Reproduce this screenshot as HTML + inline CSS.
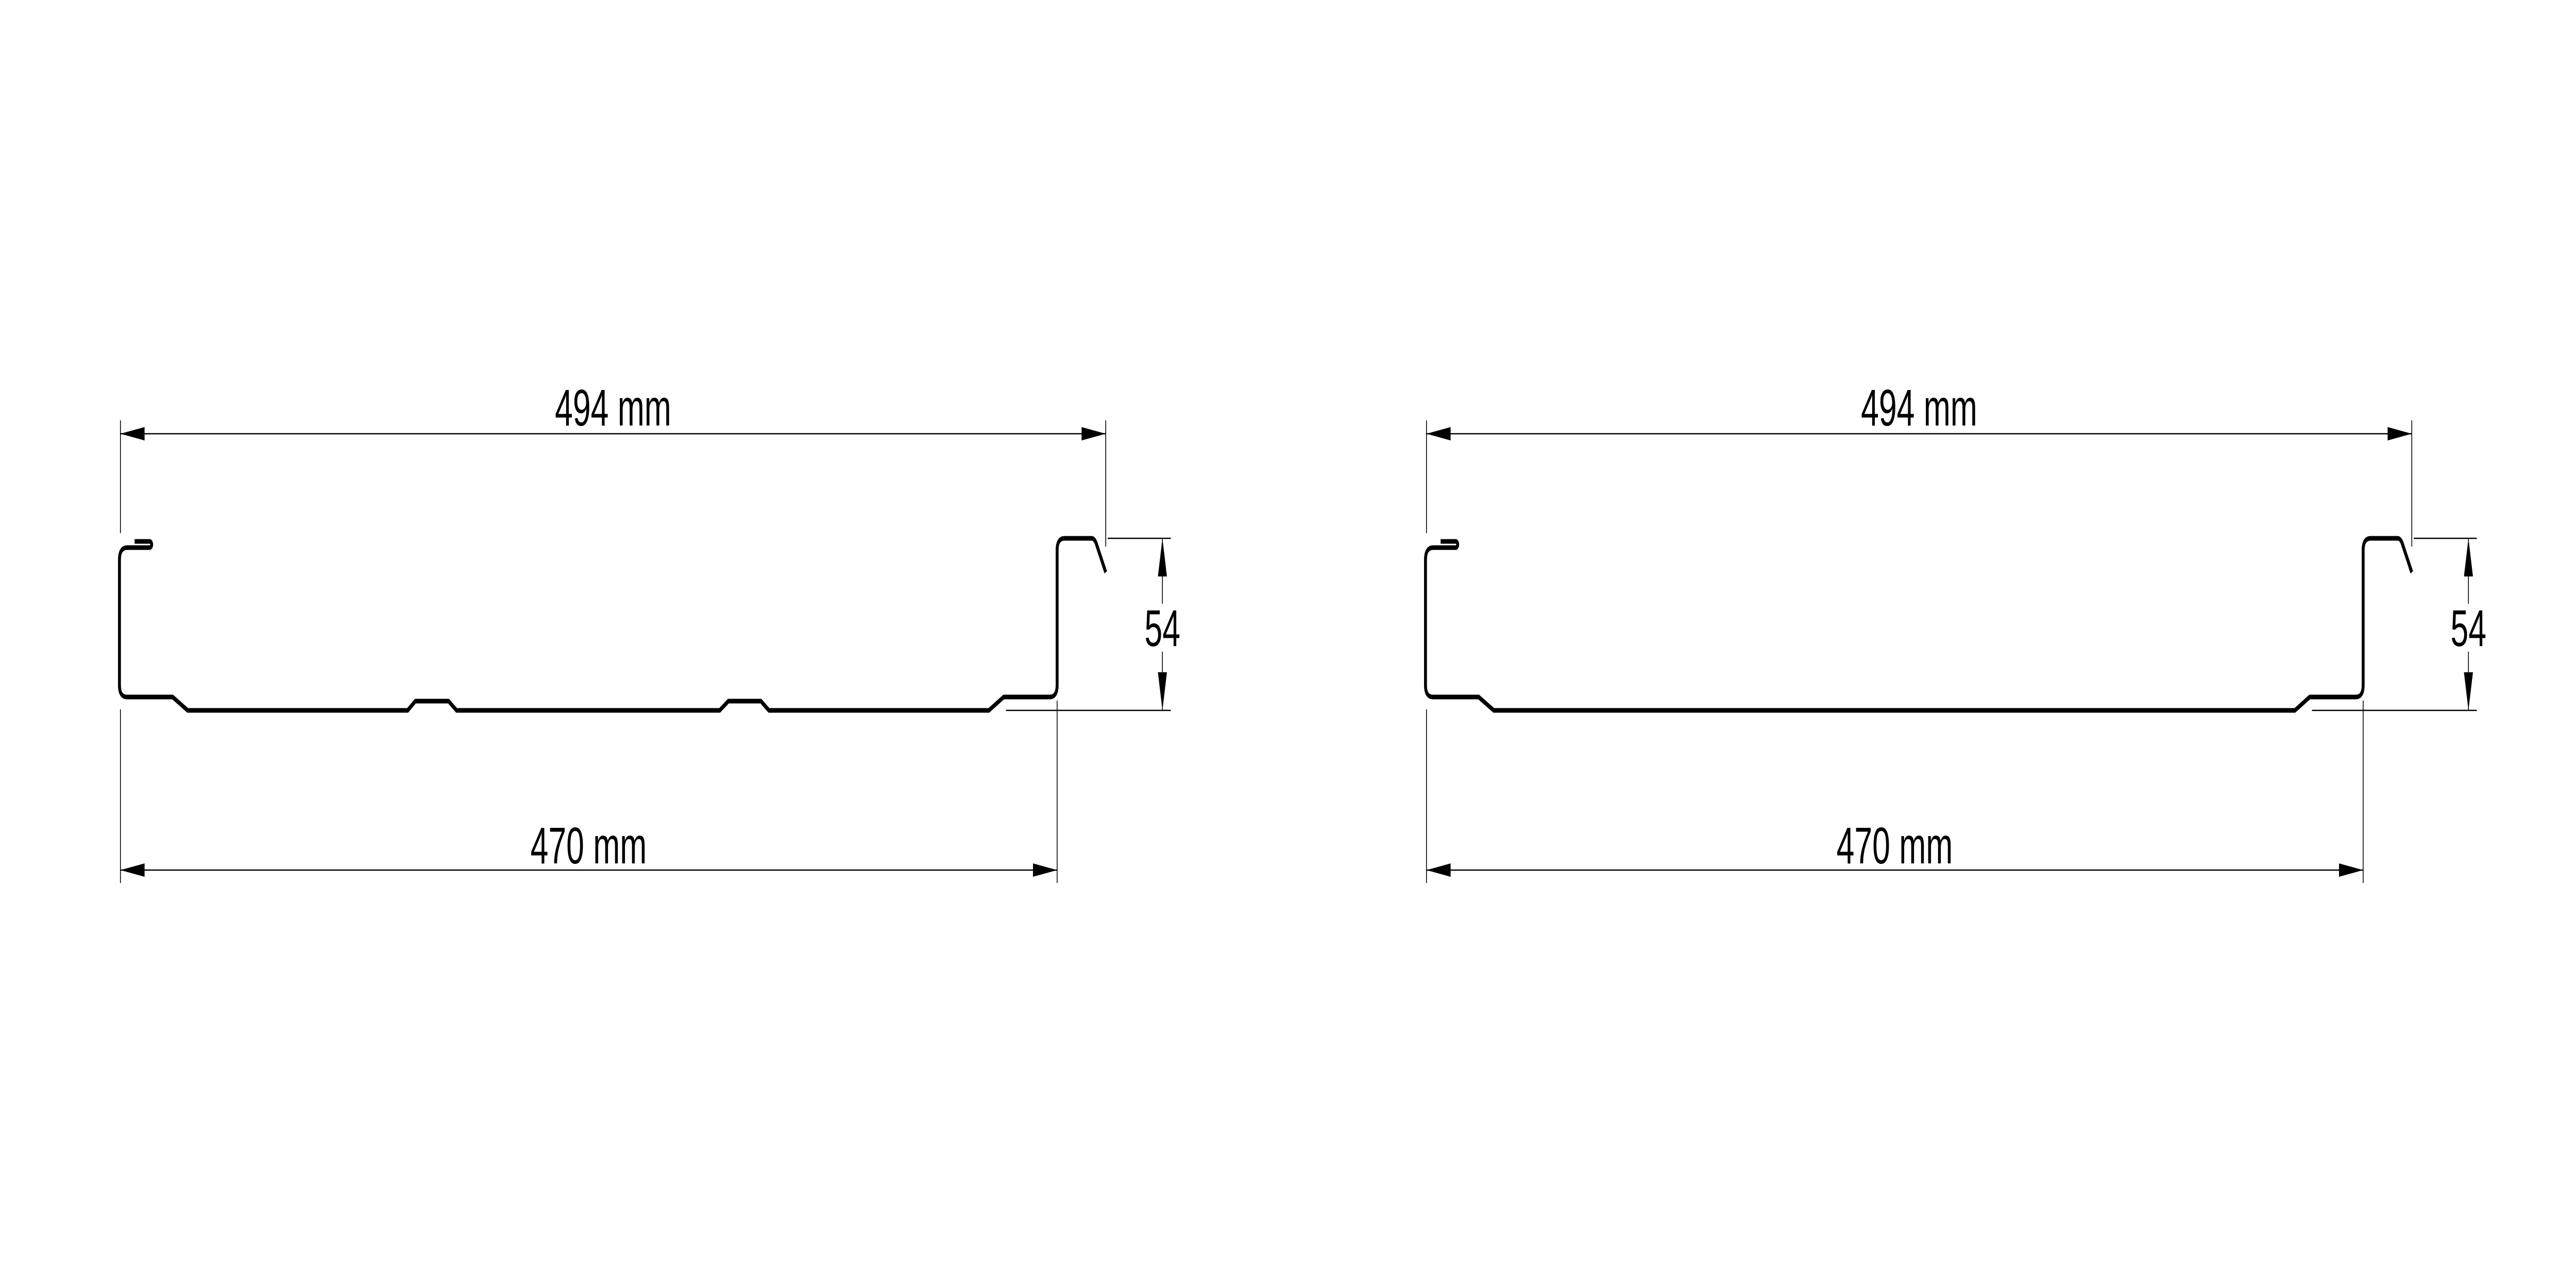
<!DOCTYPE html>
<html><head><meta charset="utf-8"><style>
html,body{margin:0;padding:0;background:#fff;overflow:hidden;width:100%;height:100%;}
svg{display:block;width:100vw;height:100vh;}
text{font-family:"Liberation Sans",sans-serif;font-size:100px;fill:#000;text-anchor:middle;}
</style></head><body>
<svg viewBox="0 0 8000 2475" preserveAspectRatio="none" xmlns="http://www.w3.org/2000/svg">
<rect width="8000" height="2475" fill="#fff"/>
<g>
  <path d="M418,1051 H465 a6,6 0 0 1 0,12 H395 Q371,1063 371,1087 V1330 Q371,1353 394,1353 H536 L583,1379 H1266 L1290,1361 H1393 L1418,1379 H2235 L2262,1361 H2363 L2388,1379 H3071 L3117,1353 H3260 Q3283,1353 3283,1330 V1068 Q3283,1045 3306,1045 H3390 Q3400,1045 3406,1058 L3434,1111" fill="none" stroke="#000" stroke-width="9" stroke-linejoin="round"/>
</g>
<g transform="translate(4056,0)">
  <path d="M418,1051 H465 a6,6 0 0 1 0,12 H395 Q371,1063 371,1087 V1330 Q371,1353 394,1353 H536 L583,1379 H3071 L3117,1353 H3260 Q3283,1353 3283,1330 V1068 Q3283,1045 3306,1045 H3390 Q3400,1045 3406,1058 L3434,1111" fill="none" stroke="#000" stroke-width="9" stroke-linejoin="round"/>
</g>
<g>
  <g stroke="#000" stroke-width="2.5" fill="none">
    <line x1="374" y1="842" x2="3434" y2="842"/>
    <line x1="374" y1="816" x2="374" y2="1035"/>
    <line x1="374" y1="1377" x2="374" y2="1714"/>
    <line x1="3434" y1="816" x2="3434" y2="1061"/>
    <line x1="3283" y1="1360" x2="3283" y2="1714"/>
    <line x1="374" y1="1689" x2="3283" y2="1689"/>
    <line x1="3440" y1="1045" x2="3636" y2="1045"/>
    <line x1="3124" y1="1379" x2="3636" y2="1379"/>
    <line x1="3610" y1="1045" x2="3610" y2="1172"/>
    <line x1="3610" y1="1265" x2="3610" y2="1379"/>
  </g>
  <g fill="#000">
    <polygon points="374,842 449,829 449,855"/>
    <polygon points="3434,842 3359,829 3359,855"/>
    <polygon points="374,1689 449,1676 449,1702"/>
    <polygon points="3283,1689 3208,1676 3208,1702"/>
    <polygon points="3610,1045 3596,1119 3624,1119"/>
    <polygon points="3610,1379 3596,1305 3624,1305"/>
  </g>
  <text x="1904" y="826">494 mm</text>
  <text x="1828" y="1676">470 mm</text>
  <text x="3610" y="1254">54</text>
</g>
<g transform="translate(4056,0)">
  <g stroke="#000" stroke-width="2.5" fill="none">
    <line x1="374" y1="842" x2="3434" y2="842"/>
    <line x1="374" y1="816" x2="374" y2="1035"/>
    <line x1="374" y1="1377" x2="374" y2="1714"/>
    <line x1="3434" y1="816" x2="3434" y2="1061"/>
    <line x1="3283" y1="1360" x2="3283" y2="1714"/>
    <line x1="374" y1="1689" x2="3283" y2="1689"/>
    <line x1="3440" y1="1045" x2="3636" y2="1045"/>
    <line x1="3124" y1="1379" x2="3636" y2="1379"/>
    <line x1="3610" y1="1045" x2="3610" y2="1172"/>
    <line x1="3610" y1="1265" x2="3610" y2="1379"/>
  </g>
  <g fill="#000">
    <polygon points="374,842 449,829 449,855"/>
    <polygon points="3434,842 3359,829 3359,855"/>
    <polygon points="374,1689 449,1676 449,1702"/>
    <polygon points="3283,1689 3208,1676 3208,1702"/>
    <polygon points="3610,1045 3596,1119 3624,1119"/>
    <polygon points="3610,1379 3596,1305 3624,1305"/>
  </g>
  <text x="1904" y="826">494 mm</text>
  <text x="1828" y="1676">470 mm</text>
  <text x="3610" y="1254">54</text>
</g>
</svg>
</body></html>
